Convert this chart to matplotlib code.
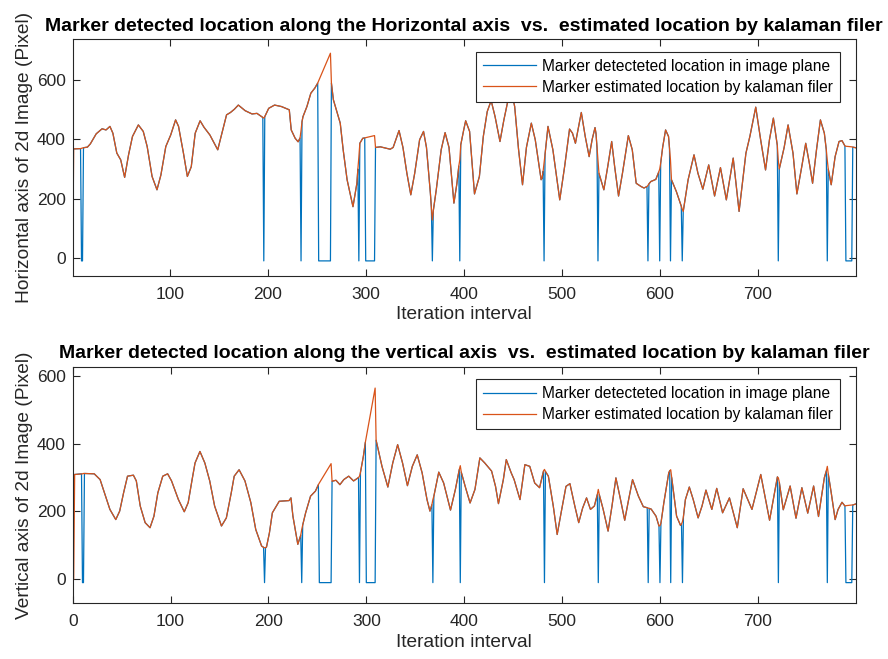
import numpy as np
import matplotlib
matplotlib.use("Agg")
import matplotlib.pyplot as plt

plt.rcParams['font.family'] = ['Liberation Sans', 'DejaVu Sans']

# ---------------- data ----------------
frames_h = [1, 2, 9, 10, 11, 12, 16, 19, 25, 31, 35, 39, 42, 46, 50, 54, 58, 62, 68, 73,
            77, 82, 87, 91, 96, 101, 106, 109, 114, 118, 122, 126, 131, 135, 141, 149, 152, 158, 162, 166,
            170, 177, 184, 189, 195, 196, 197, 201, 207, 214, 222, 224, 228, 231, 233, 234, 235, 236, 240, 244,
            248, 251, 252, 264, 265, 267, 270, 274, 277, 281, 284, 287, 291, 292, 293, 294, 297, 299, 300, 309,
            310, 315, 320, 325, 328, 334, 338, 342, 346, 350, 355, 359, 362, 366, 367, 368, 369, 372, 377, 381,
            385, 390, 393, 395, 396, 397, 400, 402, 406, 408, 411, 416, 420, 424, 428, 432, 437, 441, 446, 449,
            452, 456, 460, 464, 469, 473, 479, 480, 481, 482, 483, 486, 491, 498, 503, 508, 511, 514, 520, 524,
            528, 531, 534, 535, 536, 537, 538, 543, 547, 551, 554, 558, 562, 568, 572, 576, 581, 584, 587, 588,
            589, 591, 596, 599, 600, 601, 603, 606, 609, 610, 611, 612, 617, 621, 622, 623, 624, 629, 635, 639,
            644, 650, 656, 662, 668, 675, 681, 688, 692, 698, 703, 708, 712, 716, 720, 721, 722, 727, 731, 736,
            740, 745, 749, 753, 756, 760, 764, 768, 770, 771, 772, 775, 779, 783, 786, 789, 790, 796, 797, 800]
est_h = [0, 368, 369, 370, 371, 372, 374, 385, 419, 436, 432, 444, 421, 354, 331, 272, 348, 410, 449, 427,
         376, 275, 230, 280, 376, 415, 466, 444, 354, 275, 308, 421, 463, 441, 415, 365, 404, 483, 491, 502,
         516, 497, 486, 488, 474, 472, 477, 505, 516, 511, 500, 432, 404, 392, 405, 430, 460, 477, 511, 556,
         573, 590, 598, 691, 590, 534, 500, 455, 365, 264, 218, 173, 252, 300, 340, 387, 404, 405, 406, 413,
         373, 375, 371, 367, 373, 430, 373, 286, 213, 286, 399, 427, 373, 218, 170, 128, 160, 230, 365, 423,
         373, 185, 250, 310, 331, 382, 432, 463, 427, 342, 216, 275, 410, 494, 531, 477, 393, 466, 545, 558,
         511, 365, 247, 373, 455, 399, 264, 270, 292, 320, 350, 444, 365, 196, 309, 435, 421, 387, 491, 410,
         342, 399, 440, 420, 373, 330, 286, 230, 309, 393, 309, 209, 286, 413, 365, 252, 241, 236, 241, 245,
         250, 258, 265, 290, 300, 320, 373, 432, 410, 370, 330, 264, 224, 185, 175, 165, 157, 264, 348, 286,
         232, 314, 209, 305, 196, 337, 157, 354, 410, 509, 399, 297, 399, 472, 380, 330, 300, 373, 449, 354,
         216, 309, 387, 314, 252, 365, 466, 421, 365, 330, 300, 247, 342, 393, 396, 378, 377, 375, 374, 372]

frames_v = [1, 2, 9, 10, 11, 12, 22, 28, 33, 38, 44, 48, 52, 56, 62, 65, 69, 74, 79, 83,
            87, 92, 97, 101, 108, 114, 118, 122, 125, 130, 135, 140, 145, 152, 157, 162, 165, 170, 176, 182,
            187, 193, 195, 196, 197, 198, 201, 204, 211, 221, 223, 225, 230, 233, 234, 235, 238, 243, 248, 251,
            252, 264, 265, 269, 273, 277, 282, 287, 292, 293, 294, 297, 299, 300, 309, 310, 316, 322, 327, 332,
            337, 342, 347, 352, 357, 362, 365, 367, 368, 369, 374, 379, 386, 391, 395, 396, 397, 401, 406, 411,
            416, 421, 428, 432, 435, 440, 443, 448, 451, 457, 462, 467, 472, 477, 481, 482, 483, 486, 491, 495,
            499, 504, 508, 513, 517, 521, 525, 529, 533, 536, 537, 538, 542, 547, 551, 555, 559, 564, 568, 572,
            578, 583, 587, 588, 589, 591, 596, 599, 600, 601, 604, 609, 610, 611, 612, 614, 617, 621, 622, 623,
            624, 626, 630, 634, 639, 643, 647, 653, 658, 664, 671, 679, 685, 694, 703, 712, 720, 721, 722, 726,
            733, 739, 745, 751, 757, 762, 768, 770, 771, 772, 775, 779, 782, 786, 789, 790, 796, 797, 800]
est_v = [0, 309, 311, 311, 312, 312, 311, 294, 250, 206, 176, 201, 255, 304, 307, 290, 216, 167, 152, 186,
         255, 304, 311, 290, 235, 199, 226, 294, 343, 377, 343, 290, 216, 157, 181, 255, 304, 323, 290, 226,
         147, 98, 94, 93, 93, 95, 137, 196, 230, 232, 240, 186, 103, 130, 147, 160, 196, 245, 260, 279,
         284, 341, 289, 292, 279, 294, 304, 290, 300, 304, 315, 363, 404, 420, 564, 410, 333, 272, 343, 397,
         343, 276, 333, 367, 314, 235, 201, 220, 235, 245, 316, 284, 204, 265, 324, 335, 316, 274, 225, 265,
         358, 343, 319, 274, 223, 294, 353, 314, 294, 235, 338, 333, 284, 270, 319, 324, 318, 304, 216, 132,
         196, 274, 282, 216, 167, 210, 240, 206, 216, 250, 265, 250, 206, 142, 216, 299, 245, 174, 235, 294,
         245, 214, 211, 210, 209, 207, 186, 157, 158, 165, 226, 314, 320, 323, 300, 255, 186, 159, 163, 170,
         185, 235, 272, 235, 181, 216, 263, 206, 268, 196, 240, 152, 267, 206, 309, 174, 302, 299, 285, 205,
         275, 180, 270, 195, 275, 185, 300, 320, 333, 310, 255, 176, 206, 227, 216, 217, 219, 219, 222]

first_detection_h = 368
first_detection_v = 309
lost_value = -10
lost_ranges = [(10, 11), (196, 196), (234, 234), (252, 264), (293, 293), (300, 309),
               (368, 368), (396, 396), (482, 482), (537, 537), (588, 588), (600, 600),
               (611, 611), (623, 623), (721, 721), (771, 771), (790, 796)]

xticks_top = [100, 200, 300, 400, 500, 600, 700]
xticks_bot = [0, 100, 200, 300, 400, 500, 600, 700]
yticks = [0, 200, 400, 600]


def detected_series(frames, est, first):
    f = np.asarray(frames)
    lost = np.zeros(len(f), dtype=bool)
    for lo, hi in lost_ranges:
        lost |= (f >= lo) & (f <= hi)
    det = np.where(lost, lost_value, np.asarray(est, dtype=float))
    det[0] = first
    return det


det_h = detected_series(frames_h, est_h, first_detection_h)
det_v = detected_series(frames_v, est_v, first_detection_v)

blue = '#0072BD'
orange = '#D95319'
axc = '#262626'

W, H = 888, 659
fig = plt.figure(figsize=(W / 100, H / 100), dpi=100)


def px_axes(l, t, r, b):
    return fig.add_axes([l / W, 1 - b / H, (r - l) / W, (b - t) / H])


ax1 = px_axes(72.7, 39.3, 855.7, 276)
ax2 = px_axes(72.7, 366.7, 855.7, 603.3)

specs = [
    (ax1, frames_h, det_h, est_h, (1, 800), (-61, 738), xticks_top,
     'Marker detected location along the Horizontal axis  vs.  estimated location by kalaman filer',
     'Horizontal axis of 2d Image (Pixel)'),
    (ax2, frames_v, det_v, est_v, (0, 800), (-71, 627), xticks_bot,
     'Marker detected location along the vertical axis  vs.  estimated location by kalaman filer',
     'Vertical axis of 2d Image (Pixel)'),
]

for ax, fr, det, est, xl, yl, xt, title, ylabel in specs:
    ax.plot(fr, det, color=blue, lw=0.9, label='Marker detecteted location in image plane')
    ax.plot(fr, est, color=orange, lw=0.9, label='Marker estimated location by kalaman filer')
    ax.set_xlim(*xl)
    ax.set_ylim(*yl)
    ax.set_xticks(xt)
    ax.set_yticks(yticks)
    ax.tick_params(direction='in', length=5, width=0.8, colors=axc, labelsize=12.5,
                   top=True, right=True, labelcolor=axc)
    ax.tick_params(axis='x', pad=8)
    ax.tick_params(axis='y', pad=5)
    for s in ax.spines.values():
        s.set_color(axc)
        s.set_linewidth(0.8)
    ax.set_title(title, fontsize=14, fontweight='bold', pad=6)
    ax.set_xlabel('Iteration interval', fontsize=13.8, color=axc, labelpad=3)
    ax.set_ylabel(ylabel, fontsize=13.8, color=axc, labelpad=3)
    leg = ax.legend(loc='upper right', bbox_to_anchor=(0.98, 0.948), borderaxespad=0,
                    fontsize=11.2, fancybox=False, framealpha=1, edgecolor=axc,
                    handlelength=3.4, borderpad=0.45, labelspacing=0.4, handletextpad=0.4)
    leg.get_frame().set_linewidth(0.8)

fig.savefig('out.png', dpi=100)
